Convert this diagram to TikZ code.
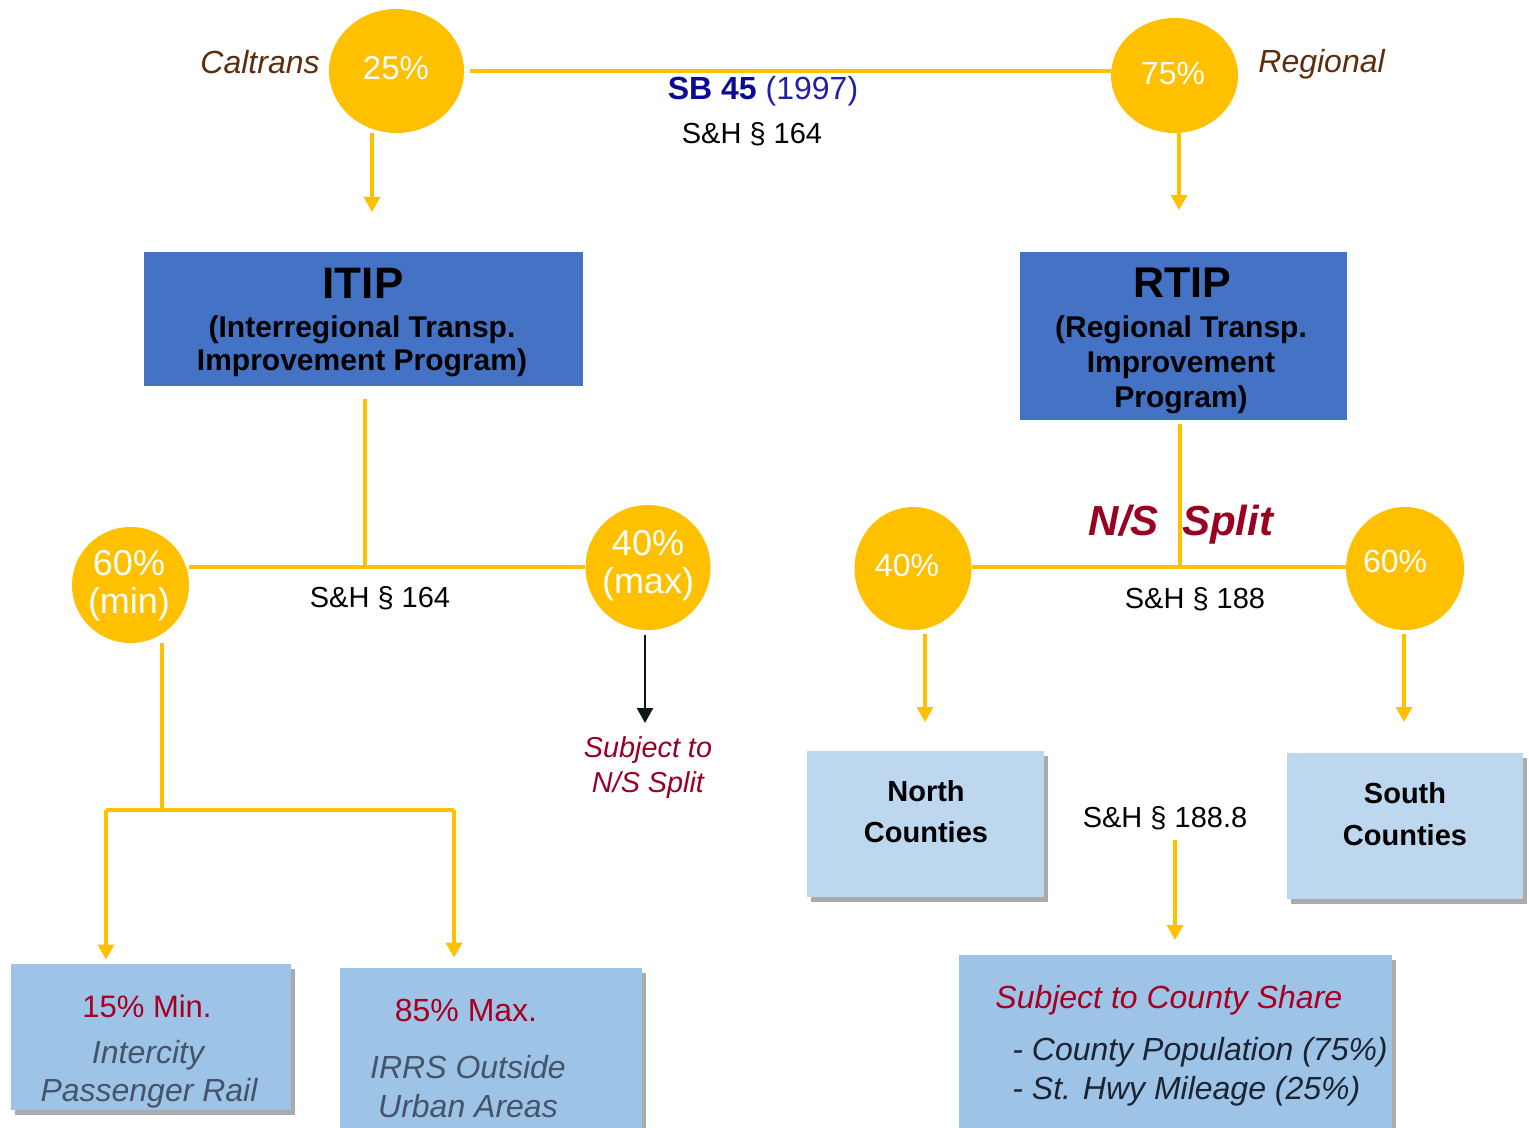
\documentclass[tikz,border=0pt]{standalone}
\usepackage{fontspec}
\setmainfont{Liberation Sans}
\usetikzlibrary{shapes.geometric,arrows.meta,shadows}
\definecolor{gold}{HTML}{FFC000}
\definecolor{boxblue}{HTML}{4472C4}
\definecolor{paleblue}{HTML}{9DC3E6}
\definecolor{lightblue}{HTML}{BDD7EE}
\definecolor{dred}{HTML}{A50021}
\definecolor{nsred}{HTML}{990022}
\definecolor{brn}{HTML}{5C2E0E}
\definecolor{navyb}{HTML}{0A0A96}
\definecolor{blueyr}{HTML}{2020A8}
\definecolor{slate}{HTML}{44546A}
\definecolor{inkb}{HTML}{1C2333}
\definecolor{arrk}{HTML}{0B1A12}
\newcommand\myfs[1]{\fontsize{#1}{#1}\selectfont}
\begin{document}
\begin{tikzpicture}[x=0.5pt,y=-0.5pt,
  pct/.style={ellipse,fill=gold,draw=none,inner sep=0pt},
  ctxt/.style={inner sep=0pt,anchor=base,text=white},
  txt/.style={inner sep=0pt,anchor=base},
  bbox/.style={rectangle,fill=boxblue,inner sep=0pt},
  lbox/.style={rectangle,inner sep=0pt,drop shadow={shadow xshift=2pt,shadow yshift=-2.5pt,opacity=0.55,fill=black!60}},
  gline/.style={draw=gold,line width=2.1pt},
  gthin/.style={draw=gold,line width=1.7pt},
  garr/.style={draw=gold,line width=1.7pt,-{Triangle[width=8pt,length=7.5pt]}},
  karr/.style={draw=arrk,line width=1.2pt,-{Triangle[width=8pt,length=7.5pt]}}
]
\useasboundingbox (0,0) rectangle (1529,1128);
\clip (0,0) rectangle (1529,1128);
\fill[white] (0,0) rectangle (1529,1128);

% ---------- circles
\node[pct,minimum width=67.5pt,minimum height=62pt] (c25) at (396.5,71) {};
\node[pct,minimum width=63.5pt,minimum height=57.5pt] (c75) at (1174.5,75.5) {};
\node[pct,minimum width=58.5pt,minimum height=58pt] (c60l) at (130.5,585) {};
\node[pct,minimum width=62.5pt,minimum height=62.5pt] (c40t) at (648,567.5) {};
\node[pct,minimum width=58.5pt,minimum height=61.5pt] (c40r) at (913,568.5) {};
\node[pct,minimum width=59pt,minimum height=61.5pt] (c60r) at (1405,568.5) {};

% ---------- lines and arrows
\draw[gline,shorten <=3pt] (c25.east) -- (c25.east -| c75.west);
\coordinate (a1) at (372,212);
\coordinate (a2) at (1179,210);
\draw[garr] (a1 |- c25.south) -- (a1);
\draw[garr] (a2 |- c75.south) -- (a2);

\node[bbox,minimum width=219.5pt,minimum height=67pt] (itip) at (363,319) {};
\node[bbox,minimum width=163.5pt,minimum height=84pt] (rtip) at (1183,336) {};

\coordinate (j1) at (365,567);
\draw[gthin,shorten <=6.5pt] (j1 |- itip.south) -- (j1);
\draw[gline] (c60l.east |- j1) -- (c40t.west |- j1);
\coordinate (j2) at (162,810);
\draw[gthin] (j2 |- c60l.south) -- (j2);
\coordinate (j3) at (106,810);
\coordinate (j4) at (454,810);
\draw[gthin] (j3) -- (j4);
\coordinate (k1) at (645,723);
\draw[karr,shorten <=2.5pt] (k1 |- c40t.south) -- (k1);

\coordinate (j5) at (1180,567);
\draw[gthin,shorten <=2pt] (j5 |- rtip.south) -- (j5);
\draw[gline] (c40r.east |- j5) -- (c60r.west |- j5);
\coordinate (a3) at (925,722);
\coordinate (a4) at (1404,722);
\draw[garr,shorten <=2pt] (a3 |- c40r.south) -- (a3);
\draw[garr,shorten <=2pt] (a4 |- c60r.south) -- (a4);

% ---------- light boxes
\node[lbox,fill=paleblue,minimum width=140pt,minimum height=73pt] (b15) at (151,1037) {};
\node[lbox,fill=paleblue,minimum width=151pt,minimum height=84pt] (b85) at (491,1052) {};
\node[lbox,fill=lightblue,minimum width=118.5pt,minimum height=73pt] (bn) at (925.5,824) {};
\node[lbox,fill=lightblue,minimum width=118pt,minimum height=73pt] (bs) at (1405,826) {};
\node[lbox,fill=paleblue,minimum width=216.5pt,minimum height=90pt] (bc) at (1175.5,1045) {};

\draw[garr,shorten >=2pt] (j3) -- (j3 |- b15.north);
\draw[garr,shorten >=5pt] (j4) -- (j4 |- b85.north);

% ---------- circle labels
\node[ctxt,font=\myfs{16.5}] (t25) at (396,80) {25\%};
\node[ctxt,font=\myfs{16}] (t75) at (1173,85) {75\%};
\node[ctxt,font=\myfs{18}] (t60a) at (129,575) {60\%};
\node[ctxt,font=\myfs{18}] (t60b) at (129,613) {(min)};
\node[ctxt,font=\myfs{18}] (t40a) at (648,555) {40\%};
\node[ctxt,font=\myfs{18}] (t40b) at (648,593) {(max)};
\node[ctxt,font=\myfs{16}] (t40r) at (907,576) {40\%};
\node[ctxt,font=\myfs{16}] (t60r) at (1395,572) {60\%};

% ---------- top labels
\node[txt,anchor=base east,font=\myfs{16}\itshape,text=brn] (calt) at (320,74) {Caltrans};
\node[txt,anchor=base west,font=\myfs{16}\itshape,text=brn] (regl) at (1258,73) {Regional};
\node[txt,font=\myfs{16}] (sb45) at (763,100) {\textcolor{navyb}{\bfseries SB 45} \textcolor{blueyr}{(1997)}};
\node[txt,font=\myfs{14.5}] (sh164a) at (752,144) {S\&H § 164};

% ---------- blue box texts
\node[txt,font=\myfs{22}\bfseries] (itipa) at (363,299) {ITIP};
\node[txt,font=\myfs{15}\bfseries] (itipb) at (362,337) {(Interregional Transp.};
\node[txt,font=\myfs{15}\bfseries] (itipc) at (362,371) {Improvement Program)};
\node[txt,font=\myfs{21.5}\bfseries] (rtipa) at (1182,298) {RTIP};
\node[txt,font=\myfs{15}\bfseries] (rtipb) at (1181,337) {(Regional Transp.};
\node[txt,font=\myfs{15}\bfseries] (rtipc) at (1181,372) {Improvement};
\node[txt,font=\myfs{15}\bfseries] (rtipd) at (1181,407) {Program)};

% ---------- middle labels
\node[txt,font=\myfs{14.5}] (sh164b) at (380,607) {S\&H § 164};
\node[txt,font=\myfs{21}\bfseries\itshape,text=nsred] (nss) at (1181,535) {N/S\ \ Split};
\node[txt,font=\myfs{14.5}] (sh188) at (1195,608) {S\&H § 188};
\node[txt,font=\myfs{14.4}\itshape,text=nsred] (subja) at (648,757) {Subject to};
\node[txt,font=\myfs{14.4}\itshape,text=nsred] (subjb) at (648,792) {N/S Split};

% ---------- box texts
\node[txt,font=\myfs{15.5},text=dred] (p15) at (147,1017) {15\% Min.};
\node[txt,font=\myfs{16}\itshape,text=slate] (p15b) at (148,1063) {Intercity};
\node[txt,font=\myfs{16}\itshape,text=slate] (p15c) at (149,1101) {Passenger Rail};
\node[txt,font=\myfs{16},text=dred] (p85) at (466,1021) {85\% Max.};
\node[txt,font=\myfs{16}\itshape,text=slate] (p85b) at (468,1078) {IRRS Outside};
\node[txt,font=\myfs{16}\itshape,text=slate] (p85c) at (468,1117) {Urban Areas};
\node[txt,font=\myfs{14.5}\bfseries] (na) at (926,801) {North};
\node[txt,font=\myfs{14.5}\bfseries] (nb) at (926,842) {Counties};
\node[txt,font=\myfs{14.5}\bfseries] (sa) at (1405,803) {South};
\node[txt,font=\myfs{14.5}\bfseries] (sb) at (1405,845) {Counties};
\node[txt,font=\myfs{14.5}] (sh1888) at (1165,827) {S\&H § 188.8};
\coordinate (a5) at (1175,940);
\draw[garr,shorten <=5pt] (sh1888.south -| a5) -- (a5);
\node[txt,anchor=base west,font=\myfs{16}\itshape,text=dred] (cs1) at (995,1008) {Subject to County Share};
\node[txt,anchor=base west,font=\myfs{16}\itshape,text=inkb] (cs2) at (1012,1060) {- County Population (75\%)};
\node[txt,anchor=base west,font=\myfs{16}\itshape,text=inkb] (cs3) at (1012,1099) {- St. Hwy Mileage (25\%)};
\end{tikzpicture}
\end{document}
